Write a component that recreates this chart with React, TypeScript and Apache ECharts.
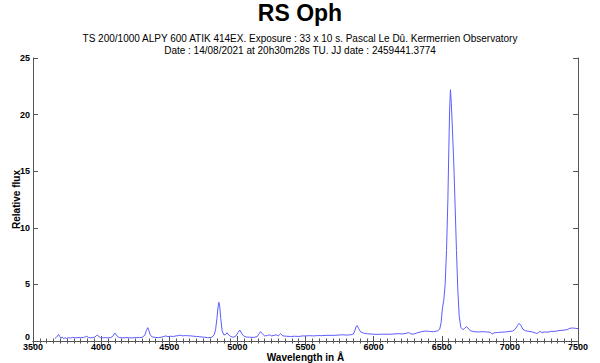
import React, { useEffect, useRef } from "react";
import * as echarts from "echarts";

const titleText = "RS Oph";
const subLine1 = "TS 200/1000 ALPY 600 ATIK 414EX. Exposure : 33 x 10 s. Pascal Le Dû. Kermerrien Observatory";
const subLine2 = "Date : 14/08/2021 at 20h30m28s TU. JJ date : 2459441.3774";
const xName = "Wavelength in Å";
const yName = "Relative flux";

const wavelength: number[] = [
  3660, 3670, 3680, 3688, 3696, 3705, 3715, 3725, 3735, 3745, 3760, 3775, 3790, 3810, 3830, 3850, 3870, 3885, 3895, 3905,
  3920, 3940, 3955, 3965, 3972, 3980, 3995, 4010, 4030, 4050, 4070, 4085, 4095, 4102, 4110, 4120, 4135, 4160, 4190, 4220,
  4250, 4280, 4300, 4320, 4333, 4342, 4350, 4360, 4375, 4400, 4420, 4440, 4460, 4475, 4490, 4510, 4530, 4550, 4570, 4585,
  4600, 4620, 4640, 4660, 4680, 4700, 4720, 4740, 4760, 4780, 4800, 4815, 4830, 4840, 4850, 4858, 4864, 4870, 4878, 4888,
  4900, 4912, 4924, 4935, 4950, 4970, 4990, 5005, 5018, 5030, 5045, 5065, 5090, 5120, 5145, 5160, 5170, 5182, 5200, 5220,
  5235, 5250, 5270, 5285, 5300, 5318, 5335, 5360, 5390, 5420, 5450, 5480, 5500, 5530, 5560, 5590, 5620, 5650, 5680, 5710,
  5740, 5770, 5800, 5830, 5850, 5862, 5872, 5880, 5890, 5905, 5925, 5950, 5975, 6000, 6030, 6060, 6090, 6120, 6150, 6180,
  6210, 6240, 6255, 6270, 6290, 6320, 6350, 6380, 6410, 6440, 6470, 6485, 6495, 6505, 6515, 6525, 6535, 6545, 6552, 6558,
  6564, 6570, 6578, 6588, 6598, 6608, 6618, 6628, 6640, 6655, 6668, 6680, 6692, 6710, 6740, 6770, 6800, 6830, 6855, 6870,
  6885, 6910, 6940, 6970, 7000, 7020, 7040, 7055, 7068, 7080, 7095, 7115, 7140, 7165, 7185, 7198, 7210, 7222, 7235, 7255,
  7280, 7300, 7330, 7360, 7390, 7420, 7440, 7460, 7480, 7500,
];

const flux: number[] = [
  0.22, 0.3, 0.45, 0.58, 0.4, 0.25, 0.35, 0.2, 0.3, 0.22, 0.3, 0.25, 0.32, 0.28, 0.3, 0.3, 0.3, 0.38, 0.42, 0.32,
  0.28, 0.3, 0.35, 0.48, 0.53, 0.42, 0.3, 0.28, 0.3, 0.28, 0.3, 0.4, 0.62, 0.7, 0.55, 0.38, 0.3, 0.28, 0.3, 0.27,
  0.3, 0.3, 0.32, 0.5, 0.95, 1.18, 0.95, 0.55, 0.35, 0.32, 0.3, 0.33, 0.4, 0.45, 0.38, 0.42, 0.4, 0.45, 0.48, 0.52,
  0.45, 0.48, 0.46, 0.45, 0.42, 0.4, 0.38, 0.35, 0.33, 0.3, 0.3, 0.35, 0.55, 1.0, 2.0, 3.0, 3.42, 3.1, 2.0, 0.9,
  0.55, 0.55, 0.73, 0.55, 0.4, 0.33, 0.45, 0.75, 0.97, 0.7, 0.45, 0.35, 0.33, 0.32, 0.38, 0.65, 0.82, 0.65, 0.45, 0.48,
  0.55, 0.45, 0.5, 0.55, 0.45, 0.65, 0.45, 0.42, 0.4, 0.42, 0.4, 0.45, 0.45, 0.47, 0.45, 0.48, 0.47, 0.5, 0.5, 0.5,
  0.52, 0.55, 0.52, 0.55, 0.6, 0.9, 1.3, 1.35, 1.1, 0.8, 0.7, 0.65, 0.62, 0.6, 0.58, 0.6, 0.6, 0.6, 0.62, 0.65,
  0.62, 0.68, 0.75, 0.65, 0.6, 0.72, 0.82, 0.88, 0.85, 0.82, 0.9, 1.05, 1.6, 2.9, 3.6, 5.0, 8.0, 12.5, 17.0, 20.5,
  22.2, 21.0, 18.8, 15.8, 12.0, 8.0, 4.5, 2.2, 1.2, 1.0, 1.1, 1.27, 1.15, 0.9, 0.82, 0.8, 0.82, 0.8, 0.78, 0.62,
  0.72, 0.75, 0.78, 0.8, 0.85, 0.88, 1.05, 1.35, 1.56, 1.4, 1.05, 0.9, 0.85, 0.8, 0.72, 0.66, 0.75, 0.85, 0.75, 0.8,
  0.78, 0.85, 0.85, 0.92, 0.95, 1.0, 1.12, 1.15, 1.12, 1.1,
];

const xMin = 3500;
const xMax = 7500;
const xStep = 500;
const yMin = 0;
const yMax = 25;
const yStep = 5;

export default function App() {
  const ref = useRef<HTMLDivElement>(null);
  useEffect(() => {
    if (!ref.current) return;
    const chart = echarts.init(ref.current, null, { renderer: "svg" });
    const font = "'Liberation Sans', Arial, Helvetica, sans-serif";
    const axisColor = "#555";
    const baseX = {
      type: "value" as const,
      min: xMin,
      max: xMax,
      interval: xStep,
      splitLine: { show: false },
      axisLine: { show: true, lineStyle: { color: axisColor, width: 1 } },
      axisTick: { show: true, inside: true, length: 5, lineStyle: { color: axisColor } },
      minorTick: { show: true, splitNumber: 10, length: 2.5, lineStyle: { color: axisColor } },
    };
    const baseY = {
      type: "value" as const,
      min: yMin,
      max: yMax,
      interval: yStep,
      splitLine: { show: false },
      axisLine: { show: true, lineStyle: { color: axisColor, width: 1 } },
      axisTick: { show: true, inside: true, length: 5, lineStyle: { color: axisColor } },
    };
    chart.setOption({
      animation: false,
      backgroundColor: "#fff",
      title: [
        {
          text: titleText,
          left: "center",
          top: -4,
          textStyle: { fontFamily: font, fontSize: 23, fontWeight: "bold", color: "#000" },
        },
        {
          text: subLine1,
          left: "center",
          top: 28,
          textStyle: { fontFamily: font, fontSize: 10, fontWeight: "normal", color: "#000" },
        },
        {
          text: subLine2,
          left: "center",
          top: 40,
          textStyle: { fontFamily: font, fontSize: 10, fontWeight: "normal", color: "#000" },
        },
      ],
      grid: { left: 33, right: 22, top: 58, bottom: 22, containLabel: false, outerBoundsMode: "none" },
      xAxis: [
        {
          ...baseX,
          position: "bottom",
          name: xName,
          nameLocation: "middle",
          nameGap: 11,
          nameMoveOverlap: false,
          nameTextStyle: { fontFamily: font, fontSize: 10, fontWeight: "bold", color: "#000" },
          axisLabel: {
            show: true,
            margin: 1,
            fontFamily: font,
            fontSize: 9,
            fontWeight: "bold",
            color: "#000",
            formatter: (v: number) => String(v),
          },
        },
        {
          ...baseX,
          position: "top",
          axisLabel: { show: false },
        },
      ],
      yAxis: [
        {
          ...baseY,
          position: "left",
          name: yName,
          nameLocation: "middle",
          nameGap: 12,
          nameMoveOverlap: false,
          nameTextStyle: { fontFamily: font, fontSize: 10, fontWeight: "bold", color: "#000" },
          axisLabel: {
            show: true,
            margin: 3,
            fontFamily: font,
            fontSize: 9,
            fontWeight: "bold",
            color: "#000",
            formatter: (v: number) => (v === 0 ? "{z|0}" : String(v)),
            rich: {
              z: { fontFamily: font, fontSize: 9, fontWeight: "bold", color: "#000", padding: [0, 0, 9, 0] },
            },
          },
        },
        {
          ...baseY,
          position: "right",
          axisLabel: { show: false },
        },
      ],
      series: [
        {
          type: "line",
          xAxisIndex: 0,
          yAxisIndex: 0,
          data: wavelength.map((w, i) => [w, flux[i]]),
          showSymbol: false,
          symbol: "none",
          smooth: false,
          lineStyle: { color: "#5c5cff", width: 1 },
        },
      ],
    });
    return () => chart.dispose();
  }, []);
  return (
    <div
      ref={ref}
      style={{ position: "fixed", left: 0, top: 0, width: 600, height: 363, background: "#fff" }}
    />
  );
}
